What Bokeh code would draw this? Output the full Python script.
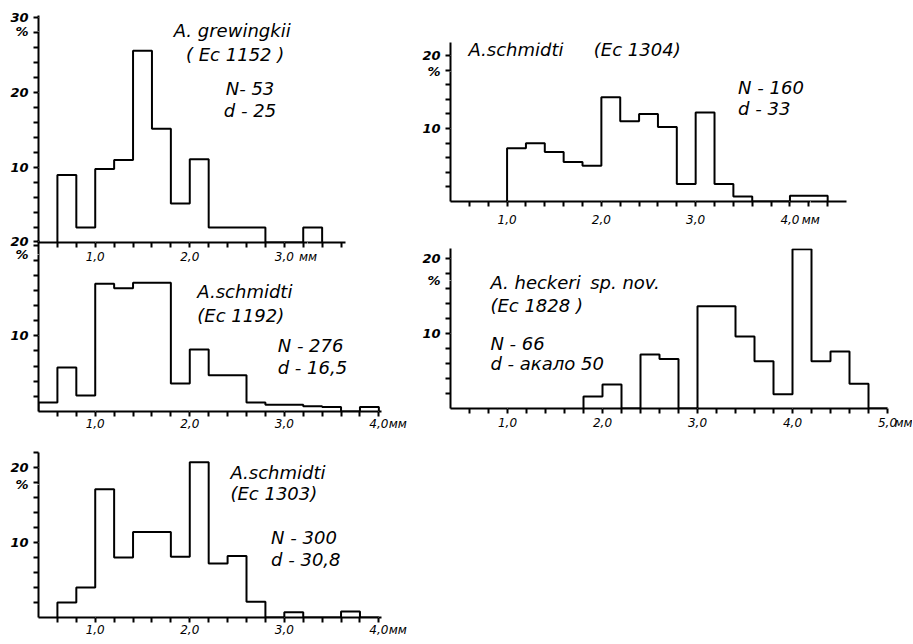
import numpy as np
from bokeh.plotting import figure
from bokeh.models import FixedTicker, Label
from bokeh.layouts import row, column
from bokeh.embed import file_html
from bokeh.resources import INLINE

# ---------------- data (percent per 0.2 mm size class) ----------------
bin_width = 0.2

p1_start = 0.6   # A. grewingkii (Ec 1152)
p1_values = [9.0, 2.0, 9.8, 11.0, 25.6, 15.2, 5.2, 11.1, 2.0, 2.0, 2.0, 0.0, 0.0, 2.0]

p2_start = 0.4   # A. schmidti (Ec 1192)
p2_values = [1.2, 5.8, 2.1, 16.9, 16.3, 17.0, 17.0, 3.7, 8.2, 4.8, 4.8, 1.2,
             0.9, 0.9, 0.7, 0.6, 0.0, 0.6]

p3_start = 0.6   # A. schmidti (Ec 1303)
p3_values = [2.0, 4.0, 17.1, 8.0, 11.4, 11.4, 8.1, 20.7, 7.2, 8.2, 2.1, 0.0,
             0.7, 0.0, 0.0, 0.8, 0.0]

p4_start = 1.0   # A. schmidti (Ec 1304)
p4_values = [7.3, 8.0, 6.8, 5.4, 4.9, 14.3, 11.0, 12.0, 10.2, 2.4, 12.2, 2.4,
             0.7, 0.0, 0.0, 0.8, 0.8]

p5_start = 1.8   # A. heckeri sp. nov. (Ec 1828)
p5_values = [1.6, 3.2, 0.0, 7.2, 6.6, 0.0, 13.6, 13.6, 9.6, 6.3, 1.9, 21.2,
             6.3, 7.6, 3.3, 0.0]

x_major_labels = {1: "1,0", 2: "2,0", 3: "3,0", 4: "4,0", 5: "5,0"}
unit_label = "мм"
percent_label = "%"

FONT = "DejaVu Sans"


def outline(start, values):
    vals = np.asarray(values, dtype=float)
    edges = start + bin_width * np.arange(len(vals) + 1)
    xs = np.repeat(edges, 2)
    ys = np.concatenate([[0.0], np.repeat(vals, 2), [0.0]])
    return xs, ys


def make_panel(start, values, x_end, x_axis_end, tick_end, y_end, y_labels, pct_at,
               x_majors, unit_at, width, height, bl, br, bt, bb, standoff, texts,
               extra_minor_y=()):
    p = figure(width=width, height=height, x_range=(0.4, x_end), y_range=(0, y_end),
               output_backend="svg", toolbar_location=None,
               min_border_left=bl, min_border_right=br,
               min_border_top=bt, min_border_bottom=bb)
    p.background_fill_color = None
    p.border_fill_color = None
    p.outline_line_color = None
    p.grid.visible = False

    xs, ys = outline(start, values)
    p.line(xs, ys, line_color="black", line_width=2)

    # x axis: tick marks every 0.2 mm, labels at whole millimetres + unit
    minor_x = [float(round(v, 1)) for v in np.arange(0.6, tick_end + 1e-6, 0.2)]
    p.xaxis.ticker = FixedTicker(ticks=list(x_majors) + [unit_at], minor_ticks=minor_x)
    ov = {t: x_major_labels[t] for t in x_majors}
    ov[unit_at] = unit_label
    p.xaxis.major_label_overrides = ov
    p.xaxis.bounds = (0.4, x_axis_end)

    # y axis: tick marks every 2 %, labels at 10/20(/30) and the % sign
    minor_y = [float(v) for v in np.arange(2, y_end + 1e-9, 2)] + list(extra_minor_y)
    ymaj = [pos for pos, _ in y_labels] + [pct_at]
    p.yaxis.ticker = FixedTicker(ticks=ymaj, minor_ticks=minor_y)
    yov = {pos: lab for pos, lab in y_labels}
    yov[pct_at] = percent_label
    p.yaxis.major_label_overrides = yov

    for ax in (p.xaxis[0], p.yaxis[0]):
        ax.axis_line_width = 2
        ax.axis_line_color = "black"
        ax.major_tick_out = 1
        ax.major_tick_in = 0
        ax.major_tick_line_color = "white"
        ax.major_tick_line_width = 1
        ax.minor_tick_line_width = 2
        ax.minor_tick_line_color = "black"
        ax.minor_tick_out = 5
        ax.minor_tick_in = 0
        ax.major_label_text_font = FONT
        ax.major_label_text_color = "black"
    p.xaxis.major_label_text_font_style = "italic"
    p.xaxis.major_label_text_font_size = "12px"
    p.xaxis.major_label_standoff = standoff
    p.yaxis.major_label_text_font_style = "bold italic"
    p.yaxis.major_label_text_font_size = "13px"
    p.yaxis.major_label_standoff = 5

    for (tx, ty, t) in texts:
        p.add_layout(Label(x=tx, y=ty, text=t, text_font=FONT, text_font_style="italic",
                           text_font_size="18px", text_color="black",
                           text_align="left", text_baseline="middle"))
    return p


p1 = make_panel(p1_start, p1_values, 4.25, 3.65, 3.6, 30.3,
                [(10, "10"), (20, "20"), (30, "30")], 28.2, [1, 2, 3], 3.25,
                408, 268, 38, 6, 15, 26, 2,
                [(1.83, 28.3, "A. grewingkii"), (1.96, 25.1, "( Ec 1152 )"),
                 (2.38, 20.5, "N- 53"), (2.36, 17.6, "d - 25")])

p2 = make_panel(p2_start, p2_values, 4.25, 4.03, 4.0, 22.6,
                [(10, "10"), (22.5, "20")], 20.7, [1, 2, 3, 4], 4.2,
                408, 210, 38, 6, 10, 29, 0,
                [(2.08, 15.8, "A.schmidti"), (2.08, 12.7, "(Ec 1192)"),
                 (2.93, 8.7, "N - 276"), (2.93, 5.85, "d - 16,5")],
                extra_minor_y=(22.5,))
p2.margin = (-38, 0, 0, 0)

p3 = make_panel(p3_start, p3_values, 4.25, 4.03, 4.0, 22.0,
                [(10, "10"), (20, "20")], 17.7, [1, 2, 3, 4], 4.2,
                408, 202, 38, 6, 12, 25, 0,
                [(2.43, 19.4, "A.schmidti"), (2.43, 16.5, "(Ec 1303)"),
                 (2.86, 10.7, "N - 300"), (2.86, 7.8, "d - 30,8")])

p4 = make_panel(p4_start, p4_values, 5.236, 4.6, 4.4, 21.8,
                [(10, "10"), (20, "20")], 17.8, [1, 2, 3, 4], 4.22,
                504, 236, 42, 6, 42, 35, 6,
                [(0.59, 20.9, "A.schmidti"), (1.92, 20.9, "(Ec 1304)"),
                 (3.45, 15.6, "N - 160"), (3.45, 12.7, "d - 33")])

p5 = make_panel(p5_start, p5_values, 5.2, 5.0, 5.0, 21.3,
                [(10, "10"), (20, "20")], 17.0, [1, 2, 3, 4, 5], 5.17,
                504, 204, 42, 6, 12, 32, 2,
                [(0.82, 16.8, "A. heckeri"), (1.87, 16.8, "sp. nov."),
                 (0.82, 13.7, "(Ec 1828 )"), (0.82, 8.7, "N - 66"),
                 (0.82, 5.96, "d - акало 50")])

layout = row(column(p1, p2, p3), column(p4, p5))

open("out.html", "w").write(file_html(layout, INLINE))
